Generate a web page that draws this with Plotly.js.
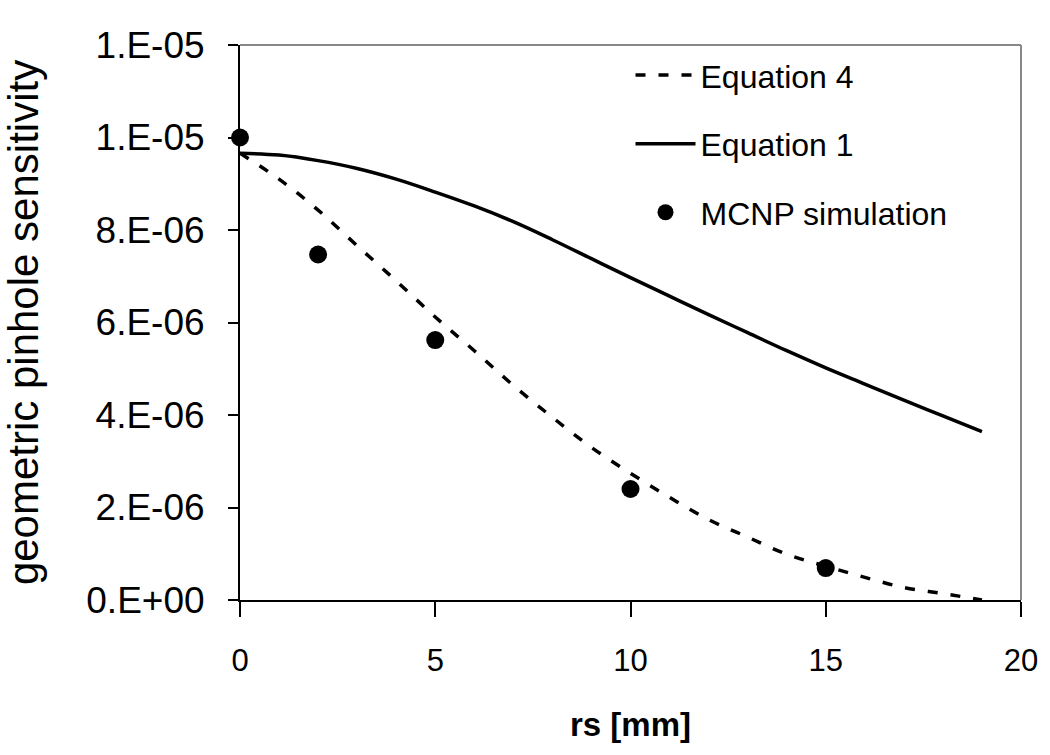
<!DOCTYPE html>
<html>
<head>
<meta charset="utf-8">
<script src="https://cdn.plot.ly/plotly-3.0.1.min.js"></script>
<style>html,body{margin:0;padding:0;background:#fff;}#chart{width:1050px;height:755px;}</style>
</head>
<body>
<div id="chart"></div>
<script>
// rs [mm]
const rsCurve = [0,1,2,3,4,5,6,7,8,9,10,11,12,13,14,15,16,17,18,19];
// Equation 4 (dashed), units of 1e-6
const eq4 = [9.66,9.10,8.43,7.66,6.90,6.12,5.39,4.64,3.95,3.30,2.74,2.22,1.74,1.36,0.99,0.73,0.49,0.27,0.14,0.00];
// Equation 1 (solid), units of 1e-6
const eq1 = [9.66,9.62,9.50,9.33,9.10,8.82,8.52,8.18,7.79,7.38,6.97,6.57,6.17,5.78,5.39,5.02,4.67,4.32,3.98,3.64];
// MCNP simulation
const rsMcnp = [0,2,5,10,15];
const mcnp = [10.0,7.47,5.62,2.40,0.69];
// y tick labels
const yTickVals = [0,2,4,6,8,10,12];
const yTickText = ['0.E+00','2.E-06','4.E-06','6.E-06','8.E-06','1.E-05','1.E-05'];
const xTickVals = [0,5,10,15,20];

const e6 = v => v.map(a => a * 1e-6);
const FONT = 'Liberation Sans, Arial, sans-serif';

const traces = [
  {x: rsCurve, y: e6(eq4), name: 'Equation 4', mode: 'lines', type: 'scatter',
   legendgroup: 'a', line: {color: '#000', width: 3.5, dash: '10px,13px', shape: 'spline'}},
  {x: rsCurve, y: e6(eq1), name: 'Equation 1', mode: 'lines', type: 'scatter',
   legendgroup: 'b', line: {color: '#000', width: 3.5, shape: 'spline'}},
  {x: rsMcnp, y: e6(mcnp), name: 'MCNP simulation', mode: 'markers', type: 'scatter',
   legendgroup: 'c', marker: {color: '#000', size: 18, symbol: 'circle'}, cliponaxis: false}
];

const layout = {
  width: 1050, height: 755,
  margin: {l: 240, r: 29, t: 45, b: 155},
  paper_bgcolor: '#fff', plot_bgcolor: '#fff',
  font: {family: FONT, color: '#000'},
  showlegend: true,
  legend: {x: 0.5, y: 0.995, xanchor: 'left', yanchor: 'top', bgcolor: 'rgba(0,0,0,0)',
           font: {size: 32, family: FONT}, traceorder: 'grouped', tracegroupgap: 24, itemwidth: 60},
  xaxis: {range: [0, 20], tickvals: xTickVals, ticktext: xTickVals.map(String),
          showgrid: false, zeroline: false, showline: true, linecolor: '#000', linewidth: 2,
          ticks: 'outside', ticklen: 15, tickwidth: 2, tickcolor: '#000', ticklabelstandoff: 17,
          tickfont: {size: 31, family: FONT},
          title: {text: '<b>rs [mm]</b>', font: {size: 33, family: FONT}, standoff: 36}},
  yaxis: {range: [0, 1.2e-5], tickvals: e6(yTickVals), ticktext: yTickText,
          showgrid: false, zeroline: false, showline: true, linecolor: '#000', linewidth: 2,
          ticks: 'outside', ticklen: 10, tickwidth: 2, tickcolor: '#000', ticklabelstandoff: 16,
          tickfont: {size: 37, family: FONT},
          title: {text: 'geometric pinhole sensitivity', font: {size: 42, family: FONT}, standoff: 38}},
  shapes: [
    {type: 'line', xref: 'paper', yref: 'paper', x0: 0, x1: 1, y0: 1, y1: 1, line: {color: '#888', width: 2}},
    {type: 'line', xref: 'paper', yref: 'paper', x0: 1, x1: 1, y0: 0, y1: 1, line: {color: '#888', width: 2}}
  ]
};

Plotly.newPlot('chart', traces, layout, {displayModeBar: false, staticPlot: true});
</script>
</body>
</html>
